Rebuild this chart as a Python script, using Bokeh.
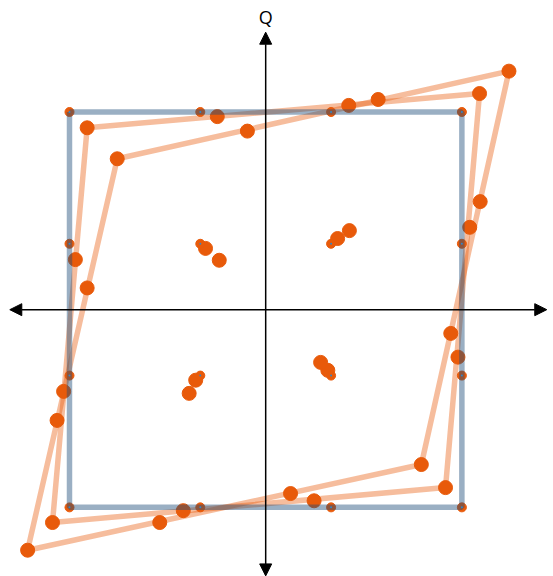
from bokeh.plotting import figure
from bokeh.models import Range1d, Arrow, NormalHead, Label
from bokeh.embed import file_html
from bokeh.resources import INLINE

# Ideal 16-QAM constellation (I, Q)
ideal_i = [-3, -1, 1, 3, -3, -1, 1, 3, -3, -1, 1, 3, -3, -1, 1, 3]
ideal_q = [3, 3, 3, 3, 1, 1, 1, 1, -1, -1, -1, -1, -3, -3, -3, -3]

# Moderate IQ imbalance
mod_i = [-2.73, -0.74, 1.27, 3.27, -2.91, -0.92, 1.10, 3.12,
         -3.09, -1.07, 0.95, 2.94, -3.26, -1.26, 0.74, 2.75]
mod_q = [2.76, 2.93, 3.10, 3.28, 0.76, 0.93, 1.08, 1.25,
         -1.24, -1.07, -0.92, -0.72, -3.23, -3.05, -2.90, -2.70]

# Strong IQ imbalance
str_i = [-2.27, -0.28, 1.72, 3.72, -2.73, -0.71, 1.28, 3.28,
         -3.19, -1.17, 0.84, 2.83, -3.64, -1.62, 0.38, 2.38]
str_q = [2.29, 2.71, 3.19, 3.62, 0.33, 0.75, 1.20, 1.64,
         -1.68, -1.27, -0.80, -0.36, -3.65, -3.23, -2.79, -2.35]

corner_idx = [0, 3, 15, 12, 0]

ORANGE = "#e85a0a"
BLUE_LINE = "#1f4e79"
DOT_BLUE = "#2f86c8"

p = figure(width=553, height=576, output_backend="svg", toolbar_location=None,
           x_range=Range1d(-4.055, 4.401), y_range=Range1d(-4.049, 4.692),
           min_border=0, outline_line_color=None)
p.axis.visible = False
p.grid.visible = False
p.background_fill_color = "white"
p.border_fill_color = "white"


def head():
    return NormalHead(size=12, fill_color="black", line_color="black")


# axes with arrows
p.add_layout(Arrow(start=head(), end=head(), x_start=-3.913, y_start=0,
                   x_end=4.298, y_end=0, line_width=1.5, line_color="black"))
p.add_layout(Arrow(start=head(), end=head(), x_start=0, y_start=-4.04,
                   x_end=0, y_end=4.211, line_width=1.5, line_color="black"))
p.add_layout(Label(x=0, y=4.44, text="Q", text_align="center", text_baseline="alphabetic",
                   text_font="Open Sans", text_font_size="18px", text_color="black"))

# distorted outlines
p.line([mod_i[k] for k in corner_idx], [mod_q[k] for k in corner_idx],
       line_color=ORANGE, line_alpha=0.4, line_width=5.5)
p.line([str_i[k] for k in corner_idx], [str_q[k] for k in corner_idx],
       line_color=ORANGE, line_alpha=0.4, line_width=5.5)

# sample clusters
p.scatter(mod_i, mod_q, marker="circle", size=14, fill_color=ORANGE, line_color=ORANGE)
p.scatter(str_i, str_q, marker="circle", size=14, fill_color=ORANGE, line_color=ORANGE)
p.scatter(ideal_i, ideal_q, marker="circle", size=9, fill_color=ORANGE, line_color=ORANGE)

# ideal square
p.line([ideal_i[k] for k in corner_idx], [ideal_q[k] for k in corner_idx],
       line_color=BLUE_LINE, line_alpha=0.45, line_width=5.5)
p.scatter(ideal_i, ideal_q, marker="circle", size=2, fill_color=DOT_BLUE, line_color=None)

open("out.html", "w").write(file_html(p, INLINE))
